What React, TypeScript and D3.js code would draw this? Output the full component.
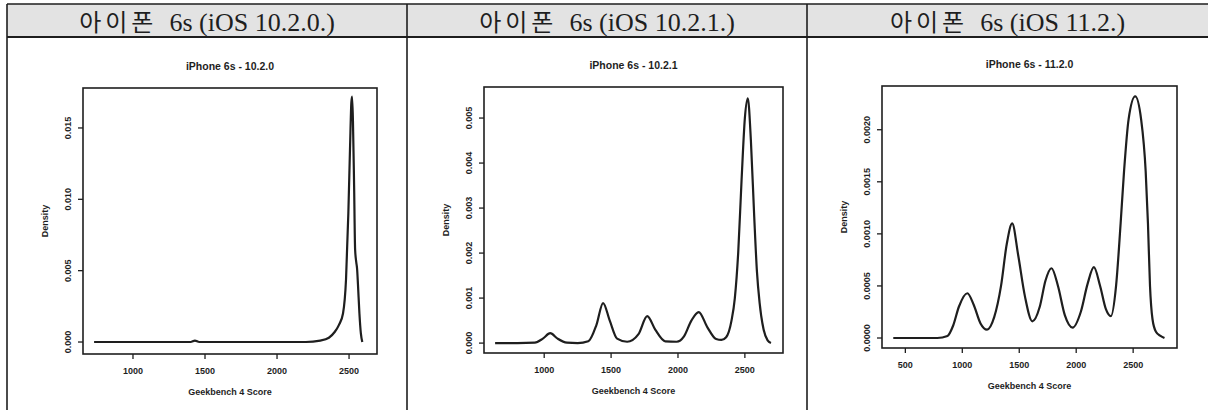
import * as d3 from "d3";

// header captions and plot titles
const HANGUL = ["아이폰", "아이폰", "아이폰"];
const VERSIONS = ["6s (iOS 10.2.0.)", "6s (iOS 10.2.1.)", "6s (iOS 11.2.)"];
const TITLES = ["iPhone 6s - 10.2.0", "iPhone 6s - 10.2.1", "iPhone 6s - 11.2.0"];

const X_TICKS = [
  [1000, 1500, 2000, 2500],
  [1000, 1500, 2000, 2500],
  [500, 1000, 1500, 2000, 2500],
];
const Y_TICKS = [
  [0, 0.005, 0.01, 0.015],
  [0, 0.001, 0.002, 0.003, 0.004, 0.005],
  [0, 0.0005, 0.001, 0.0015, 0.002],
];
const Y_LABELS = [
  ["0.000", "0.005", "0.010", "0.015"],
  ["0.000", "0.001", "0.002", "0.003", "0.004", "0.005"],
  ["0.0000", "0.0005", "0.0010", "0.0015", "0.0020"],
];

// [score, density]
const DENSITY_1020: [number, number][] = [
  [730, 0], [1000, 0], [1200, 0], [1400, 0], [1430, 0.0001], [1460, 0],
  [1700, 0], [2000, 0], [2200, 0], [2300, 0.0001], [2360, 0.0003],
  [2400, 0.0007], [2430, 0.0012], [2458, 0.002], [2479, 0.0044],
  [2495, 0.009], [2507, 0.0137], [2516, 0.0168], [2521, 0.0172],
  [2527, 0.0155], [2535, 0.011], [2542, 0.0065], [2550, 0.0056],
  [2556, 0.0051], [2562, 0.004], [2572, 0.002], [2582, 0.0006], [2592, 0],
];
const DENSITY_1021: [number, number][] = [
  [633, 0], [800, 0], [930, 0.00001], [990, 0.0001], [1045, 0.00022],
  [1100, 0.0001], [1170, 0.00001], [1250, 0], [1330, 0.00004],
  [1390, 0.0004], [1440, 0.00089], [1490, 0.0005], [1545, 0.0001],
  [1620, 0.00003], [1705, 0.0002], [1770, 0.0006], [1830, 0.0003],
  [1905, 0.00004], [1990, 0.00003], [2045, 0.00015], [2100, 0.0005],
  [2155, 0.00069], [2220, 0.00035], [2285, 0.00009], [2325, 0.00007],
  [2360, 0.00013], [2400, 0.0005], [2425, 0.001], [2450, 0.002],
  [2475, 0.0036], [2500, 0.005], [2522, 0.00544], [2545, 0.0045],
  [2570, 0.0028], [2590, 0.0016], [2610, 0.0009], [2640, 0.0003],
  [2670, 0.00006], [2695, 0],
];
const DENSITY_112: [number, number][] = [
  [394, 0], [600, 0], [780, 0], [870, 0.00002], [920, 0.00012],
  [970, 0.0003], [1044, 0.00043], [1100, 0.00032], [1160, 0.00014],
  [1217, 0.00008], [1280, 0.0002], [1340, 0.0005], [1390, 0.0009],
  [1438, 0.0011], [1490, 0.0008], [1550, 0.0004], [1615, 0.00016],
  [1680, 0.0003], [1730, 0.00055], [1783, 0.00067], [1840, 0.0005],
  [1900, 0.00022], [1969, 0.0001], [2040, 0.00025], [2100, 0.00052],
  [2155, 0.00068], [2210, 0.0005], [2260, 0.00028], [2305, 0.00021],
  [2350, 0.0005], [2390, 0.0011], [2420, 0.0016], [2460, 0.0021],
  [2518, 0.00232], [2570, 0.0021], [2610, 0.0016], [2630, 0.0011],
  [2648, 0.0005], [2670, 0.00018], [2700, 0.00006], [2740, 0.00002],
  [2775, 0],
];
const SERIES = [DENSITY_1020, DENSITY_1021, DENSITY_112];

const W = 1208;
const H = 410;
const INK = "#1e1e1e";

const PANELS = [
  { x0: 7, x1: 407, l: 83, r: 377, t: 88, b: 354, xd: [653, 2694], yd: [-0.00084, 0.0178] },
  { x0: 407, x1: 807, l: 484, r: 783, t: 87, b: 353, xd: [550, 2785], yd: [-0.00022, 0.00569] },
  { x0: 807, x1: 1208, l: 882, r: 1177, t: 86, b: 348, xd: [295, 2885], yd: [-0.000096, 0.00242] },
];

const Panel = ({ i }: { i: number }) => {
  const p = PANELS[i];
  const x = d3.scaleLinear().domain(p.xd).range([p.l, p.r]);
  const y = d3.scaleLinear().domain(p.yd).range([p.b, p.t]);
  const line = d3
    .line<[number, number]>()
    .x((d) => x(d[0]))
    .y((d) => y(d[1]))
    .curve(d3.curveMonotoneX);
  const cx = (p.l + p.r) / 2;
  const cy = (p.t + p.b) / 2;
  const xt = X_TICKS[i];
  const yt = Y_TICKS[i];
  const small = { fontFamily: "Liberation Sans, Arial, sans-serif", fontWeight: 700, fill: INK };

  return (
    <g>
      <text x={(p.x0 + p.x1) / 2} y={31} textAnchor="middle" fill={INK}
        fontFamily="Liberation Serif, serif" fontSize={26}>
        <tspan fontFamily="'Noto Sans CJK KR', sans-serif" fontSize={24} letterSpacing={4}>
          {HANGUL[i]}
        </tspan>
        <tspan dx={12}>{VERSIONS[i]}</tspan>
      </text>

      <text x={cx} y={p.t - 18} textAnchor="middle" fontSize={10.5} {...small}>
        {TITLES[i]}
      </text>

      <rect x={p.l} y={p.t} width={p.r - p.l} height={p.b - p.t}
        fill="none" stroke={INK} strokeWidth={1.6} />

      {xt.map((v) => (
        <g key={v}>
          <line x1={x(v)} x2={x(v)} y1={p.b} y2={p.b + 5} stroke={INK} strokeWidth={1.3} />
          <text x={x(v)} y={p.b + 20} textAnchor="middle" fontSize={9} {...small}>
            {v}
          </text>
        </g>
      ))}
      {yt.map((v, k) => (
        <g key={v}>
          <line x1={p.l - 5} x2={p.l} y1={y(v)} y2={y(v)} stroke={INK} strokeWidth={1.3} />
          <text transform={`translate(${p.l - 12},${y(v)}) rotate(-90)`}
            textAnchor="middle" fontSize={9} {...small}>
            {Y_LABELS[i][k]}
          </text>
        </g>
      ))}

      <text x={cx} y={p.b + 41} textAnchor="middle" fontSize={9} {...small}>
        Geekbench 4 Score
      </text>
      <text transform={`translate(${p.l - 35},${cy}) rotate(-90)`}
        textAnchor="middle" fontSize={9} {...small}>
        Density
      </text>

      <path d={line(SERIES[i]) ?? ""} fill="none" stroke={INK} strokeWidth={2.2}
        strokeLinejoin="round" />
    </g>
  );
};

export default function App() {
  return (
    <div style={{ position: "absolute", left: 0, top: 0 }}>
      <svg width={W} height={H} style={{ display: "block", background: "#fff" }}>
        <rect x={7} y={4} width={W - 7} height={33} fill="#e3e3e3" />
        <line x1={7} x2={W} y1={4} y2={4} stroke={INK} strokeWidth={1.5} />
        <line x1={7} x2={W} y1={37} y2={37} stroke={INK} strokeWidth={2} />
        {[7, 407, 807].map((v) => (
          <line key={v} x1={v} x2={v} y1={4} y2={H} stroke={INK} strokeWidth={1.6} />
        ))}
        {PANELS.map((_, i) => (
          <Panel key={i} i={i} />
        ))}
      </svg>
    </div>
  );
}
